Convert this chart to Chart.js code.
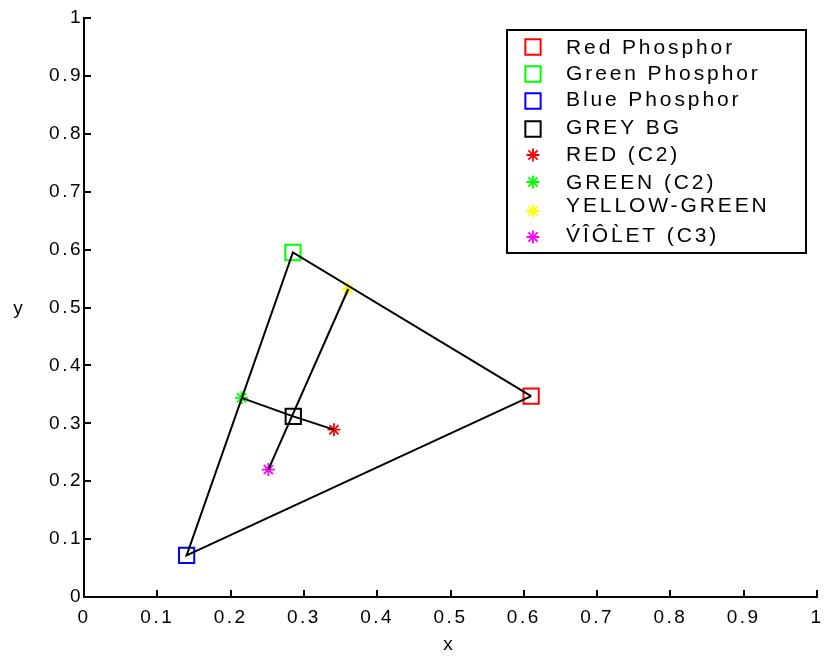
<!DOCTYPE html>
<html><head><meta charset="utf-8">
<script src="https://cdn.jsdelivr.net/npm/chart.js@4"></script>
<style>html,body{margin:0;padding:0;background:#fff}#wrap{width:824px;height:658px}</style>
</head><body><div id="wrap"><canvas id="c" width="824" height="658"></canvas></div>
<script>
// ---- data ----
const seriesNames = ['Red Phosphor','Green Phosphor','Blue Phosphor','GREY BG','RED (C2)','GREEN (C2)','YELLOW-GREEN','V\u0301\u00CE\u00D4L\u0300ET (C3)'];
const xValues = [0.61, 0.285, 0.14, 0.2855, 0.341, 0.215, 0.3605, 0.2515];
const yValues = [0.347, 0.595, 0.072, 0.312, 0.289, 0.344, 0.532, 0.22];
const triangleIdx = [0, 1, 2, 0];
const greenRedIdx = [5, 3, 4];
const violetYellowIdx = [7, 6];
const tickValues = [0,0.1,0.2,0.3,0.4,0.5,0.6,0.7,0.8,0.9,1];
const tickLabels = ['0','0.1','0.2','0.3','0.4','0.5','0.6','0.7','0.8','0.9','1'];
const xTitle = 'x';
const yTitle = 'y';

// ---- styles ----
const seriesColors = ['#ff0000','#00ff00','#0000ff','#000000','#ff0000','#00ff00','#ffff00','#ff00ff'];
const seriesMarkers = ['rect','rect','rect','rect','star','star','star','star'];
const FONT = '"Liberation Sans", Arial, sans-serif';
const TICK_SPACING = '2.5px';

const pts = idx => idx.map(i => ({x: xValues[i], y: yValues[i]}));

const datasets = [];
seriesNames.forEach((n, i) => {
  datasets.push({
    label: n, data: [{x: xValues[i], y: yValues[i]}], showLine: false,
    pointStyle: seriesMarkers[i], pointRadius: seriesMarkers[i] === 'rect' ? 10.8 : 6.5,
    pointBorderWidth: seriesMarkers[i] === 'rect' ? 2 : 1.8,
    pointBorderColor: seriesColors[i], pointBackgroundColor: 'rgba(0,0,0,0)',
    pointHoverRadius: 0, order: 2
  });
});
[triangleIdx, greenRedIdx, violetYellowIdx].forEach((idx, k) => {
  datasets.push({
    label: 'line' + k, data: pts(idx), showLine: true, borderColor: '#000',
    borderWidth: 2, pointRadius: 0, fill: false, tension: 0, order: 1
  });
});

const spacing = {
  id: 'spacing',
  beforeUpdate(chart) { chart.ctx.letterSpacing = TICK_SPACING; },
  beforeLayout(chart) { chart.ctx.letterSpacing = TICK_SPACING; },
  beforeDraw(chart) { chart.ctx.letterSpacing = TICK_SPACING; }
};

const legendMarkerY = [47, 74, 101, 129, 155, 182, 211, 237];
const legendTextBase = [54, 80, 106, 134, 161, 189, 212, 242];

const extras = {
  id: 'extras',
  afterDraw(chart) {
    const ctx = chart.ctx, xs = chart.scales.x, ys = chart.scales.y, a = chart.chartArea;
    ctx.save();
    // inward ticks
    ctx.strokeStyle = '#000'; ctx.lineWidth = 2;
    tickValues.forEach(v => {
      const px = Math.round(xs.getPixelForValue(v));
      ctx.beginPath(); ctx.moveTo(px, a.bottom); ctx.lineTo(px, a.bottom - 7); ctx.stroke();
      const py = Math.round(ys.getPixelForValue(v));
      ctx.beginPath(); ctx.moveTo(a.left, py); ctx.lineTo(a.left + 7, py); ctx.stroke();
    });
    // axis titles
    ctx.letterSpacing = '0px';
    ctx.fillStyle = '#000'; ctx.font = '19px ' + FONT;
    ctx.textAlign = 'center'; ctx.textBaseline = 'middle';
    ctx.fillText(xTitle, 448, 645);
    ctx.fillText(yTitle, 18, 309);
    // legend
    const lx = 507, ly = 30, lw = 299, lh = 223;
    ctx.fillStyle = '#fff'; ctx.fillRect(lx, ly, lw, lh);
    ctx.strokeStyle = '#000'; ctx.lineWidth = 2; ctx.strokeRect(lx, ly, lw, lh);
    ctx.font = '21px ' + FONT; ctx.letterSpacing = '2.9px';
    ctx.textAlign = 'left'; ctx.textBaseline = 'alphabetic';
    seriesNames.forEach((n, i) => {
      const my = legendMarkerY[i];
      ctx.strokeStyle = seriesColors[i]; ctx.fillStyle = 'rgba(0,0,0,0)';
      ctx.lineWidth = seriesMarkers[i] === 'rect' ? 2 : 1.8;
      Chart.helpers.drawPoint(ctx, {pointStyle: seriesMarkers[i], radius: seriesMarkers[i] === 'rect' ? 10.8 : 6.5, rotation: 0, borderWidth: 2}, 533, my);
      ctx.fillStyle = '#000';
      ctx.fillText(n, 566, legendTextBase[i]);
    });
    ctx.restore();
  }
};

const axisCommon = {
  type: 'linear', min: 0, max: 1,
  grid: {display: false, drawTicks: false},
  border: {display: true, color: '#000', width: 2},
  ticks: {stepSize: 0.1, autoSkip: false, maxRotation: 0, color: '#000',
          font: {family: FONT, size: 19},
          callback: (v, i) => tickLabels[i]}
};

new Chart(document.getElementById('c'), {
  type: 'scatter',
  data: {datasets},
  options: {
    responsive: false, animation: false, devicePixelRatio: 1,
    layout: {autoPadding: false, padding: {top: 18, right: 7, left: 0, bottom: 0}},
    plugins: {legend: {display: false}, tooltip: {enabled: false}},
    scales: {
      x: Object.assign({}, axisCommon, {position: 'bottom', ticks: Object.assign({}, axisCommon.ticks, {padding: 9}),
          afterFit: s => { s.height = 61; s.paddingLeft = 0; s.paddingRight = 0; }}),
      y: Object.assign({}, axisCommon, {position: 'left', ticks: Object.assign({}, axisCommon.ticks, {padding: 1}),
          afterFit: s => { s.width = 84; s.paddingTop = 0; s.paddingBottom = 0; }})
    }
  },
  plugins: [spacing, extras]
});
</script>
</body></html>
